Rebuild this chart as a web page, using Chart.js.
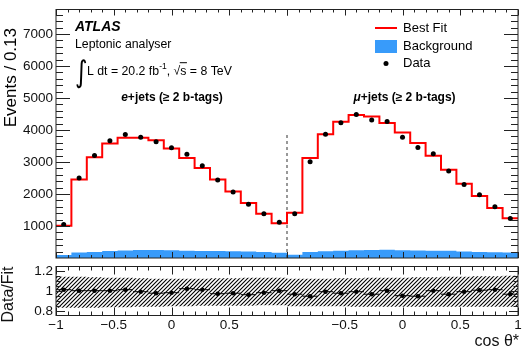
<!DOCTYPE html>
<html><head><meta charset="utf-8">
<script src="https://cdn.jsdelivr.net/npm/chart.js@4.4.1/dist/chart.umd.min.js"></script>
<style>
html,body{margin:0;padding:0;background:#fff;width:522px;height:349px;overflow:hidden}
#c1{position:absolute;left:0;top:0}
#c2{position:absolute;left:0;top:262px}
</style></head><body>
<canvas id="c1" width="522" height="262"></canvas>
<canvas id="c2" width="522" height="87"></canvas>
<script>
// ---------------- data ----------------
const channels = ['e+jets', 'μ+jets'];
const cosEdges = [-1, -0.8667, -0.7333, -0.6, -0.4667, -0.3333, -0.2, -0.0667, 0.0667, 0.2, 0.3333, 0.4667, 0.6, 0.7333, 0.8667, 1];
const fitE   = [1005, 2450, 3145, 3575, 3755, 3755, 3680, 3420, 3125, 2810, 2455, 2080, 1720, 1380, 1085];
const dataE  = [1045, 2500, 3205, 3660, 3860, 3775, 3630, 3445, 3245, 2885, 2435, 2060, 1680, 1380, 1120];
const bkgE   = [90, 170, 190, 215, 235, 250, 250, 240, 230, 215, 220, 210, 200, 185, 165];
const fitMu  = [1410, 3125, 3870, 4255, 4470, 4420, 4215, 3920, 3590, 3195, 2760, 2320, 1935, 1565, 1245];
const dataMu = [1380, 3010, 3870, 4225, 4480, 4315, 4265, 3775, 3450, 3260, 2715, 2300, 1980, 1605, 1235];
const bkgMu  = [100, 190, 210, 225, 240, 250, 255, 245, 235, 225, 230, 200, 190, 180, 170];
const ratioE  = [1.01, 1.0, 1.0, 1.0, 1.01, 0.99, 0.975, 0.98, 1.02, 1.01, 0.97, 0.975, 0.96, 0.98, 1.0];
const ratioMu = [0.965, 0.945, 0.99, 0.975, 0.99, 0.965, 1.0, 0.95, 0.945, 1.0, 0.965, 0.99, 1.005, 1.01, 0.965];
const bandHiE  = [1.14, 1.14, 1.135, 1.13, 1.13, 1.125, 1.12, 1.12, 1.12, 1.12, 1.125, 1.125, 1.13, 1.13, 1.13];
const bandLoE  = [0.83, 0.83, 0.83, 0.835, 0.835, 0.84, 0.84, 0.845, 0.845, 0.85, 0.85, 0.85, 0.85, 0.855, 0.855];
const bandHiMu = [1.12, 1.12, 1.12, 1.125, 1.125, 1.13, 1.13, 1.13, 1.135, 1.135, 1.14, 1.14, 1.145, 1.145, 1.15];
const bandLoMu = [0.845, 0.845, 0.845, 0.845, 0.84, 0.84, 0.84, 0.84, 0.84, 0.84, 0.84, 0.84, 0.84, 0.84, 0.84];
const dividerTop = 3900;
const yTopMax = 7764;
const yTickValues = [1000, 2000, 3000, 4000, 5000, 6000, 7000];
const ratioTickValues = [0.8, 1, 1.2];
const ratioTickLabels = ['0.8', '1', '1.2'];
const xTickCos = [-1, -0.5, 0, 0.5, -0.5, 0, 0.5, 1];
const xTickChannel = [0, 0, 0, 0, 1, 1, 1, 1];
const xTickLabels = ['\u22121', '\u22120.5', '0', '0.5', '\u22120.5', '0', '0.5', '1'];

// ---------------- helpers ----------------
const FONT = '"Liberation Sans", Arial, sans-serif';
const BLUE = 'rgb(56,155,250)';
const AXC = '#222';
const u = (cos, ch) => cos + 1 + 2 * ch;
function histPts(vals, ch) {
  const p = [];
  vals.forEach((v, i) => { p.push({x: u(cosEdges[i], ch), y: v}, {x: u(cosEdges[i + 1], ch), y: v}); });
  return p;
}
function centerPts(vals, ch) {
  return vals.map((v, i) => ({x: u((cosEdges[i] + cosEdges[i + 1]) / 2, ch), y: v}));
}
function barPts(vals, ch) {
  const p = [];
  vals.forEach((v, i) => { p.push({x: u(cosEdges[i], ch), y: v}, {x: u(cosEdges[i + 1], ch), y: v}, {x: u(cosEdges[i + 1], ch), y: null}); });
  return p;
}
function hatch() {
  const c = document.createElement('canvas'); c.width = 4; c.height = 4;
  const g = c.getContext('2d');
  g.strokeStyle = '#000'; g.lineWidth = 1.1;
  g.beginPath();
  g.moveTo(-1, 5); g.lineTo(5, -1);
  g.moveTo(-1, 1); g.lineTo(1, -1);
  g.moveTo(3, 5); g.lineTo(5, 3);
  g.stroke();
  return g.createPattern(c, 'repeat');
}
function xTickList() {
  const t = [];
  for (let ch = 0; ch < 2; ch++) for (let k = 0; k <= 20; k++) t.push({v: 2 * ch + 0.1 * k, major: k % 5 === 0});
  return t;
}
function framePlugin(cfg) {
  return {
    id: 'frame_' + cfg.name,
    afterDraw(chart) {
      const {ctx, chartArea: a, scales: {x, y}} = chart;
      ctx.save();
      ctx.strokeStyle = AXC; ctx.lineWidth = 1;
      ctx.beginPath();
      for (const t of xTickList()) {
        const px = Math.round(x.getPixelForValue(t.v)) + 0.5;
        const L = t.major ? cfg.xMaj : cfg.xMin;
        ctx.moveTo(px, a.bottom); ctx.lineTo(px, a.bottom - L);
        ctx.moveTo(px, a.top); ctx.lineTo(px, a.top + L);
      }
      for (const t of cfg.yTicks) {
        const py = Math.round(y.getPixelForValue(t.v)) + 0.5;
        if (py < a.top || py > a.bottom) continue;
        const L = t.major ? cfg.yMaj : cfg.yMin;
        ctx.moveTo(a.left, py); ctx.lineTo(a.left + L, py);
        ctx.moveTo(a.right, py); ctx.lineTo(a.right - L, py);
      }
      ctx.stroke();
      ctx.strokeRect(a.left, a.top, a.right - a.left, a.bottom - a.top);
      ctx.fillStyle = '#111';
      ctx.font = '13.5px ' + FONT;
      ctx.textAlign = 'right'; ctx.textBaseline = 'middle';
      cfg.yLabels.forEach(l => ctx.fillText(l.t, a.left - 3, y.getPixelForValue(l.v) + 0.5));
      if (cfg.extra) cfg.extra(chart, ctx, a, x, y);
      ctx.restore();
    }
  };
}
function runs(ctx, x, y, parts) {
  for (const p of parts) {
    ctx.font = p.f;
    ctx.fillText(p.t, x, y + (p.dy || 0));
    const w = ctx.measureText(p.t).width;
    if (p.over) { ctx.fillRect(x - 0.5, y - 9.8, w + 1, 1); }
    x += w;
  }
  return x;
}
function runsWidth(ctx, parts) {
  let w = 0; for (const p of parts) { ctx.font = p.f; w += ctx.measureText(p.t).width; } return w;
}

// ---------------- top panel ----------------
const topYTicks = [];
for (let v = 0; v <= 7600; v += 200) topYTicks.push({v, major: v % 1000 === 0});

new Chart(document.getElementById('c1'), {
  type: 'line',
  data: {
    datasets: [
      {label: 'Data', type: 'scatter', data: centerPts(dataE, 0).concat(centerPts(dataMu, 1)),
       pointRadius: 2.5, pointBackgroundColor: '#000', pointBorderWidth: 0, showLine: false},
      {label: 'Best Fit', data: histPts(fitE, 0).concat(histPts(fitMu, 1)),
       borderColor: '#f00', borderWidth: 2, pointRadius: 0, fill: false, tension: 0},
      {label: 'divider', data: [{x: 2, y: 0}, {x: 2, y: dividerTop}],
       borderColor: '#333', borderWidth: 1, borderDash: [3, 3], pointRadius: 0, fill: false},
      {label: 'Background', data: histPts(bkgE, 0).concat(histPts(bkgMu, 1)),
       borderColor: BLUE, borderWidth: 0, backgroundColor: BLUE, pointRadius: 0, fill: 'origin'}
    ]
  },
  options: {
    responsive: false, animation: false, devicePixelRatio: 1,
    layout: {padding: {left: 56, right: 4, top: 9.5, bottom: 3.5}},
    scales: {
      x: {type: 'linear', min: 0, max: 4, display: false},
      y: {type: 'linear', min: 0, max: yTopMax, display: false}
    },
    plugins: {legend: {display: false}, tooltip: {enabled: false}}
  },
  plugins: [framePlugin({
    name: 'top', xMaj: 6, xMin: 3, yMaj: 14, yMin: 7, yTicks: topYTicks,
    yLabels: yTickValues.map(v => ({v, t: String(v)})),
    extra(chart, ctx, a, x, y) {
      ctx.fillStyle = '#000';
      ctx.textAlign = 'left'; ctx.textBaseline = 'middle';
      ctx.font = 'italic bold 14px ' + FONT;
      ctx.fillText('ATLAS', 75, 27);
      ctx.font = '12.3px ' + FONT;
      ctx.fillText('Leptonic analyser', 75, 45);
      ctx.save();
      ctx.font = '24px "DejaVu Sans", ' + FONT;
      ctx.translate(75, 74); ctx.scale(1, 1.25);
      ctx.fillText('\u222B', 0, 0);
      ctx.restore();
      const f = '12.3px ' + FONT;
      runs(ctx, 87, 72, [
        {t: 'L dt = 20.2 fb', f}, {t: '-1', f: '8.5px ' + FONT, dy: -5}, {t: ', ', f},
        {t: '\u221A', f}, {t: 's', f, over: true}, {t: ' = 8 TeV', f}
      ]);
      const fb = 'bold 12px ' + FONT, fbi = 'italic bold 12px ' + FONT;
      const labE = [{t: 'e', f: fbi}, {t: '+jets (\u2265 2 b-tags)', f: fb}];
      const labM = [{t: '\u03BC', f: fbi}, {t: '+jets (\u2265 2 b-tags)', f: fb}];
      runs(ctx, 172 - runsWidth(ctx, labE) / 2, 97.5, labE);
      runs(ctx, 404.5 - runsWidth(ctx, labM) / 2, 97.5, labM);
      // legend
      ctx.strokeStyle = '#f00'; ctx.lineWidth = 2;
      ctx.beginPath(); ctx.moveTo(375, 28); ctx.lineTo(397, 28); ctx.stroke();
      ctx.fillStyle = BLUE; ctx.fillRect(375, 40, 22, 13);
      ctx.fillStyle = '#000';
      ctx.beginPath(); ctx.arc(386, 63.5, 2.5, 0, Math.PI * 2); ctx.fill();
      ctx.font = '13px ' + FONT;
      ctx.fillText('Best Fit', 403, 28);
      ctx.fillText('Background', 403, 46);
      ctx.fillText('Data', 403, 63.5);
      // y title
      ctx.save();
      ctx.translate(16, 28); ctx.rotate(-Math.PI / 2);
      ctx.textAlign = 'right'; ctx.textBaseline = 'alphabetic';
      ctx.font = '17px ' + FONT;
      ctx.fillText('Events / 0.13', 0, 0);
      ctx.restore();
    }
  })]
});

// ---------------- ratio panel ----------------
const ratioYTicks = [];
for (let k = 0; k <= 10; k++) { const v = 0.75 + 0.05 * k; ratioYTicks.push({v, major: Math.abs(v - 0.8) < 1e-6 || Math.abs(v - 1) < 1e-6 || Math.abs(v - 1.2) < 1e-6}); }

new Chart(document.getElementById('c2'), {
  type: 'line',
  data: {
    datasets: [
      {label: 'Ratio', type: 'scatter', data: centerPts(ratioE, 0).concat(centerPts(ratioMu, 1)),
       pointRadius: 2.3, pointBackgroundColor: '#000', pointBorderWidth: 0, showLine: false},
      {label: 'RatioBars', data: barPts(ratioE, 0).concat(barPts(ratioMu, 1)),
       borderColor: '#000', borderWidth: 1, pointRadius: 0, fill: false, spanGaps: false},
      {label: 'BandHi', data: histPts(bandHiE, 0).concat(histPts(bandHiMu, 1)),
       borderWidth: 0, borderColor: 'rgba(0,0,0,0)', pointRadius: 0, fill: '+1', backgroundColor: hatch()},
      {label: 'BandLo', data: histPts(bandLoE, 0).concat(histPts(bandLoMu, 1)),
       borderWidth: 0, borderColor: 'rgba(0,0,0,0)', pointRadius: 0, fill: false}
    ]
  },
  options: {
    responsive: false, animation: false, devicePixelRatio: 1,
    layout: {padding: {left: 56, right: 4, top: 4.5, bottom: 33.5}},
    scales: {
      x: {type: 'linear', min: 0, max: 4, display: false},
      y: {type: 'linear', min: 0.752, max: 1.242, display: false}
    },
    plugins: {legend: {display: false}, tooltip: {enabled: false}}
  },
  plugins: [framePlugin({
    name: 'ratio', xMaj: 8, xMin: 4, yMaj: 9, yMin: 4.5, yTicks: ratioYTicks,
    yLabels: ratioTickValues.map((v, i) => ({v, t: ratioTickLabels[i]})),
    extra(chart, ctx, a, x, y) {
      ctx.fillStyle = '#111';
      ctx.textAlign = 'center'; ctx.textBaseline = 'middle';
      ctx.font = '13.5px ' + FONT;
      xTickLabels.forEach((t, i) => ctx.fillText(t, x.getPixelForValue(u(xTickCos[i], xTickChannel[i])), 63.5));
      ctx.textAlign = 'right';
      ctx.font = '16px ' + FONT;
      ctx.fillText('cos \u03B8*', 519, 80);
      ctx.save();
      ctx.translate(13, 32.5); ctx.rotate(-Math.PI / 2);
      ctx.textAlign = 'center'; ctx.textBaseline = 'alphabetic';
      ctx.font = '16px ' + FONT;
      ctx.fillText('Data/Fit', 0, 0);
      ctx.restore();
    }
  })]
});
</script></body></html>
